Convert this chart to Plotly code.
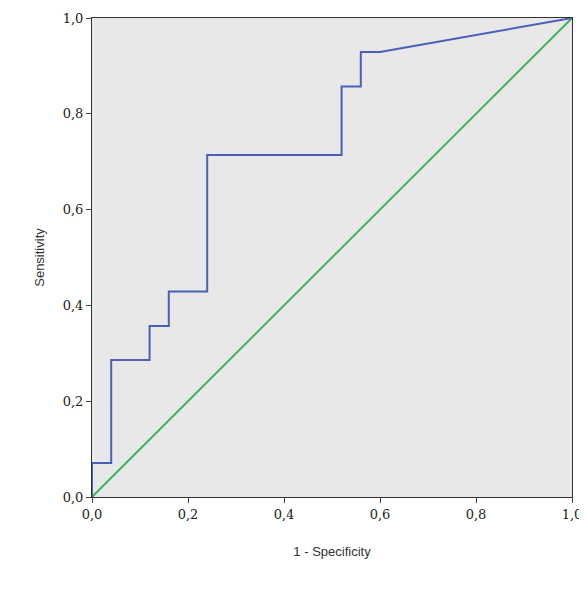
import plotly.graph_objects as go

fpr = [0, 0, 0.04, 0.04, 0.12, 0.12, 0.16, 0.16, 0.24, 0.24, 0.52, 0.52, 0.56, 0.56, 0.60, 1.0]
tpr = [0, 0.071, 0.071, 0.286, 0.286, 0.357, 0.357, 0.429, 0.429, 0.714, 0.714, 0.857, 0.857, 0.929, 0.929, 1.0]
ref_x = [0, 1]
ref_y = [0, 1]
ticks = [0, 0.2, 0.4, 0.6, 0.8, 1.0]

fig = go.Figure()
fig.add_trace(go.Scatter(x=ref_x, y=ref_y, mode="lines", line=dict(color="#3cb45a", width=2), showlegend=False, cliponaxis=False))
fig.add_trace(go.Scatter(x=fpr, y=tpr, mode="lines", line=dict(color="#4a5fb8", width=2), showlegend=False, cliponaxis=False))

axis = dict(range=[0, 1], tickvals=ticks, tickformat=".1f", ticks="outside", ticklen=5, automargin=False,
            showgrid=False, zeroline=False, showline=True, linecolor="#333", mirror=True,
            tickfont=dict(family="DejaVu Serif", size=13, color="#222"))
fig.update_xaxes(**axis, title=dict(text="1 - Specificity", font=dict(family="Liberation Sans Narrow, Arial Narrow, sans-serif", size=13, color="#333"), standoff=26))
fig.update_yaxes(**axis, title=dict(text="Sensitivity", font=dict(family="Liberation Sans Narrow, Arial Narrow, sans-serif", size=13, color="#333"), standoff=15))
fig.update_layout(width=587, height=590, separators=",.", plot_bgcolor="#e8e8e8", paper_bgcolor="white",
                  margin=dict(l=84, r=23, t=10, b=101))
fig.write_html("out.html")
